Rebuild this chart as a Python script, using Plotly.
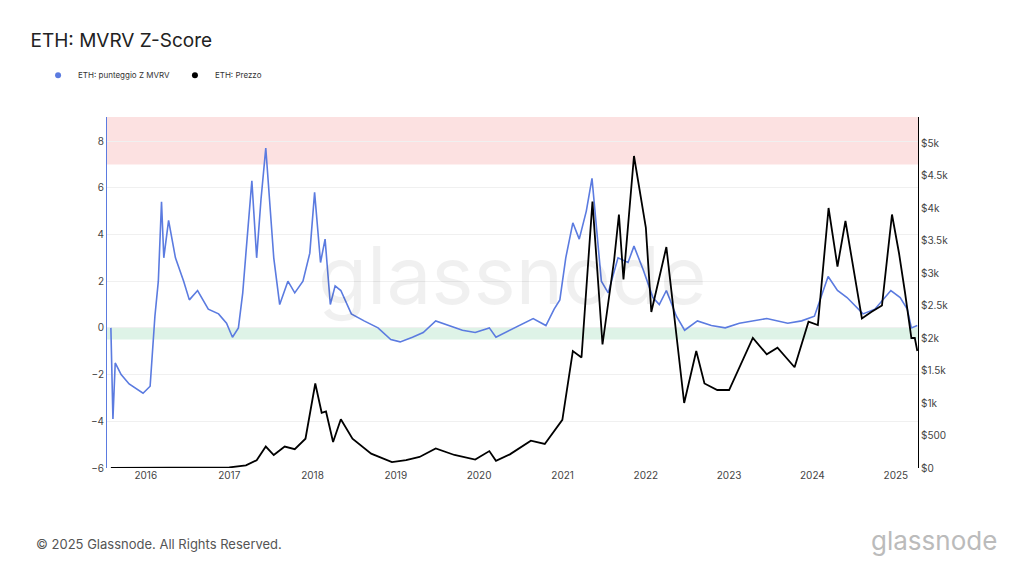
import plotly.graph_objects as go

# MVRV Z-score (left axis)
z_dates = ["2015-08-01", "2015-08-10", "2015-08-20", "2015-09-15", "2015-10-20", "2015-11-20", "2015-12-20",
           "2016-01-20", "2016-02-10", "2016-02-25", "2016-03-10", "2016-03-20", "2016-04-10", "2016-05-10",
           "2016-06-15", "2016-07-10", "2016-08-15", "2016-10-01", "2016-11-15", "2016-12-20", "2017-01-15",
           "2017-02-10", "2017-03-01", "2017-03-15", "2017-04-10", "2017-05-01", "2017-05-20", "2017-06-10",
           "2017-06-25", "2017-07-15", "2017-08-10", "2017-09-15", "2017-10-15", "2017-11-20", "2017-12-20",
           "2018-01-10", "2018-02-05", "2018-02-25", "2018-03-20", "2018-04-10", "2018-05-05", "2018-06-20",
           "2018-08-15", "2018-10-15", "2018-12-10", "2019-01-20", "2019-03-15", "2019-05-01", "2019-06-25",
           "2019-08-20", "2019-10-20", "2019-12-15", "2020-02-15", "2020-03-15", "2020-05-15", "2020-07-15",
           "2020-08-25", "2020-10-20", "2020-11-25", "2020-12-20", "2021-01-15", "2021-02-15", "2021-03-15",
           "2021-04-15", "2021-05-10", "2021-06-20", "2021-07-20", "2021-09-01", "2021-10-15", "2021-11-10",
           "2021-12-20", "2022-02-01", "2022-03-01", "2022-04-01", "2022-05-15", "2022-06-20", "2022-08-15",
           "2022-10-15", "2022-12-15", "2023-02-15", "2023-04-15", "2023-06-15", "2023-09-15", "2023-11-15",
           "2024-01-10", "2024-03-10", "2024-04-20", "2024-06-01", "2024-08-10", "2024-10-01", "2024-12-10",
           "2025-01-20", "2025-02-20", "2025-03-10", "2025-04-05"]
z_values = [0.0, -3.9, -1.5, -2.0, -2.4, -2.6, -2.8,
            -2.5, 0.5, 2.0, 5.4, 3.0, 4.6, 3.0,
            2.0, 1.2, 1.6, 0.8, 0.6, 0.2, -0.4,
            0.0, 1.5, 3.2, 6.3, 3.0, 5.5, 7.7,
            5.8, 3.0, 1.0, 2.0, 1.5, 2.0, 3.2,
            5.8, 2.8, 3.8, 1.0, 1.8, 1.6, 0.6,
            0.3, 0.0, -0.5, -0.6, -0.4, -0.2, 0.3,
            0.1, -0.1, -0.2, 0.0, -0.4, -0.1, 0.2,
            0.4, 0.1, 0.8, 1.2, 3.0, 4.5, 3.8,
            5.0, 6.4, 2.0, 1.5, 3.0, 2.8, 3.5,
            2.5, 1.3, 1.0, 1.6, 0.5, -0.1, 0.3,
            0.1, 0.0, 0.2, 0.3, 0.4, 0.2, 0.3,
            0.5, 2.2, 1.6, 1.3, 0.6, 0.8, 1.6,
            1.3, 0.8, 0.0, 0.1]

# ETH price (right axis)
p_dates = ["2015-08-01", "2016-01-01", "2016-06-15", "2017-01-01", "2017-03-15", "2017-05-01", "2017-06-10",
           "2017-07-15", "2017-09-01", "2017-10-15", "2017-12-01", "2018-01-13", "2018-02-10", "2018-03-01",
           "2018-04-01", "2018-05-05", "2018-06-25", "2018-09-15", "2018-12-15", "2019-02-15", "2019-04-15",
           "2019-06-25", "2019-09-15", "2019-12-15", "2020-02-15", "2020-03-15", "2020-05-15", "2020-08-15",
           "2020-10-15", "2020-12-01", "2020-12-31", "2021-02-15", "2021-03-25", "2021-05-12", "2021-06-25",
           "2021-08-15", "2021-09-05", "2021-09-25", "2021-11-10", "2022-01-01", "2022-01-25", "2022-04-01",
           "2022-05-15", "2022-06-18", "2022-08-10", "2022-09-15", "2022-11-10", "2023-01-01", "2023-04-15",
           "2023-06-15", "2023-08-01", "2023-10-15", "2023-12-15", "2024-01-25", "2024-03-12", "2024-04-20",
           "2024-05-25", "2024-08-05", "2024-09-15", "2024-11-01", "2024-12-15", "2025-01-15", "2025-02-10",
           "2025-03-10", "2025-03-25", "2025-04-05"]
p_values = [1, 1, 12, 9, 40, 120, 330,
            200, 330, 290, 450, 1300, 850, 870,
            400, 750, 450, 220, 90, 120, 170,
            300, 200, 130, 260, 110, 210, 420,
            370, 600, 740, 1800, 1700, 4100, 1900,
            3200, 3900, 2900, 4800, 3700, 2400, 3400,
            2000, 1000, 1800, 1300, 1200, 1200, 2000,
            1750, 1850, 1550, 2250, 2200, 4000, 3100,
            3800, 2300, 2400, 2500, 3900, 3300, 2700,
            2000, 2000, 1800]

BLUE = "#5b7be0"

fig = go.Figure()
fig.add_hrect(y0=7, y1=9.03, fillcolor="rgba(250,200,200,0.55)", line_width=0, layer="below")
fig.add_hrect(y0=-0.5, y1=0, fillcolor="rgba(200,235,215,0.6)", line_width=0, layer="below")
fig.add_trace(go.Scatter(x=p_dates, y=p_values, name="ETH: Prezzo", yaxis="y2", mode="lines",
                         line=dict(color="black", width=1.8), showlegend=False))
fig.add_trace(go.Scatter(x=z_dates, y=z_values, name="ETH: punteggio Z MVRV", mode="lines",
                         line=dict(color=BLUE, width=1.6), showlegend=False))
# legend entries with dot markers
fig.add_trace(go.Scatter(x=[None], y=[None], mode="markers", name="ETH: punteggio Z MVRV",
                         marker=dict(color=BLUE, size=6)))
fig.add_trace(go.Scatter(x=[None], y=[None], mode="markers", name="ETH: Prezzo",
                         marker=dict(color="black", size=6)))

fig.add_annotation(text="glassnode", xref="paper", yref="paper", x=0.5, y=0.55, showarrow=False,
                   font=dict(size=80, color="rgba(0,0,0,0.06)", family="Inter"))
fig.add_annotation(text="© 2025 Glassnode. All Rights Reserved.", xref="paper", yref="paper",
                   x=-0.09, y=-0.245, xanchor="left", showarrow=False,
                   font=dict(size=13, color="#555", family="Inter"))
fig.add_annotation(text="glassnode", xref="paper", yref="paper", x=1.1, y=-0.255, xanchor="right",
                   showarrow=False, font=dict(size=26, color="#bbb", family="Inter"))

fig.update_layout(
    width=1024, height=576, paper_bgcolor="white", plot_bgcolor="white",
    margin=dict(l=99, r=114, t=109, b=116),
    title=dict(text="ETH: MVRV Z-Score", x=0.022, y=0.955, font=dict(size=19, color="#222", family="Inter")),
    font=dict(family="Inter", color="#444"),
    showlegend=True,
    legend=dict(orientation="h", x=-0.085, y=1.16, xanchor="left", itemwidth=30,
                font=dict(size=8, color="#333")),
    xaxis=dict(range=["2015-07-15", "2025-04-08"], showgrid=False, showline=False, ticks="",
               dtick="M12", tickformat="%Y", tickfont=dict(size=10)),
    yaxis=dict(range=[-6, 9.03], dtick=2, showgrid=True, gridcolor="#f0f0f0", zeroline=False,
               showline=True, linecolor=BLUE, linewidth=1, tickfont=dict(size=10)),
    yaxis2=dict(range=[0, 5400], overlaying="y", side="right", showgrid=False,
                tickvals=[0, 500, 1000, 1500, 2000, 2500, 3000, 3500, 4000, 4500, 5000],
                ticktext=["$0", "$500", "$1k", "$1.5k", "$2k", "$2.5k", "$3k", "$3.5k", "$4k", "$4.5k", "$5k"],
                showline=True, linecolor="black", linewidth=1, tickfont=dict(size=10)),
)
fig.write_html("out.html")
